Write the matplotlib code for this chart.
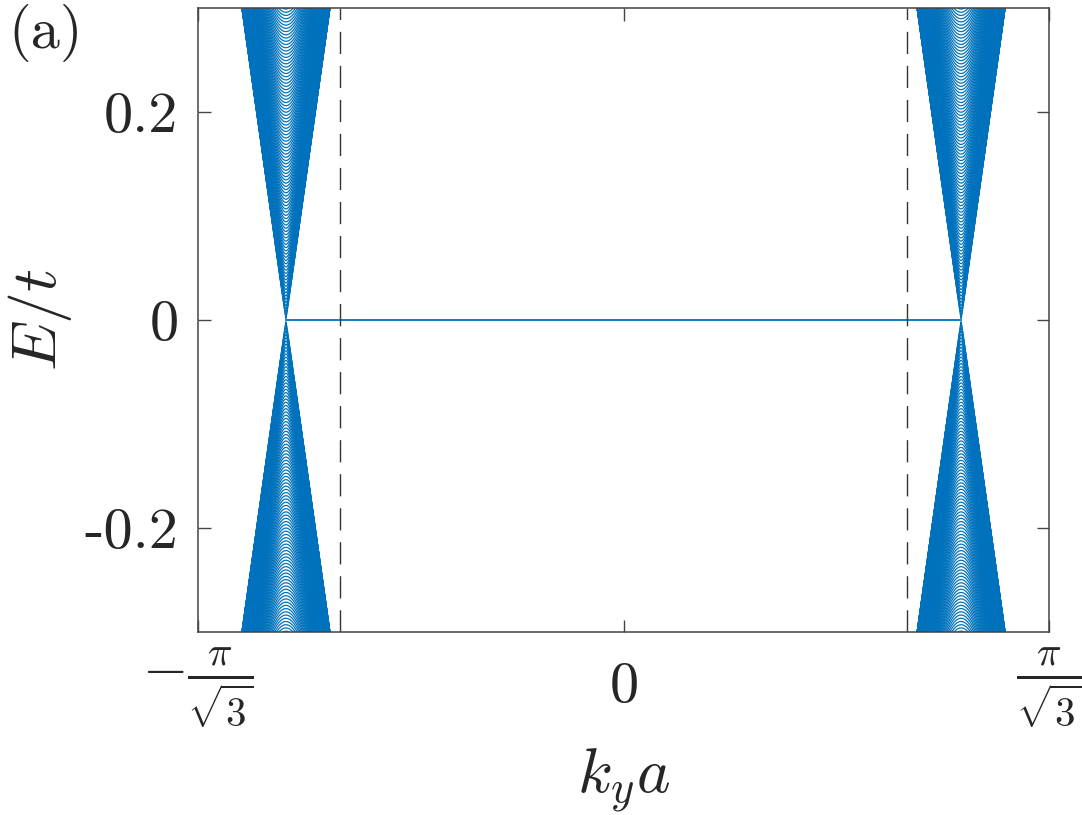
import numpy as np
import matplotlib
matplotlib.use("Agg")
import matplotlib.pyplot as plt

plt.rcParams['font.family'] = 'serif'
plt.rcParams['font.serif'] = ['cmr10']
plt.rcParams['mathtext.fontset'] = 'cm'
plt.rcParams['axes.unicode_minus'] = False
plt.rcParams['text.color'] = '#262626'
plt.rcParams['xtick.labelcolor'] = '#262626'
plt.rcParams['ytick.labelcolor'] = '#262626'
plt.rcParams['axes.labelcolor'] = '#262626'

# values (k in units of 1/a, E in units of t)
k_max = np.pi / np.sqrt(3)
dirac_k = [-1.439, 1.439]          # cone apexes
valley_k = [-1.209, 1.209]         # dashed lines
fermi_v = 1.60                     # slope of the cone edge
subband_step = 0.0031              # spacing of sub-band minima
n_subbands = 110
edge_band_k = [-1.439, 1.439]      # flat zero-energy band
edge_band_E = [0.0, 0.0]

xtick_pos = [-k_max, 0, k_max]
xtick_lbl = [r'$-\frac{\pi}{\sqrt{3}}$', r'$0$', r'$\frac{\pi}{\sqrt{3}}$']
ytick_pos = [-0.2, 0, 0.2]
ytick_lbl = ['-0.2', '0', '0.2']

blue = '#0072BD'

fig = plt.figure(figsize=(10.82, 8.15), dpi=100)
ax = fig.add_axes([0.183, 0.2245, 0.7865, 0.7655])

# bulk sub-bands around each Dirac point
q = np.linspace(-0.22, 0.22, 1501)
for k0 in dirac_k:
    for n in range(n_subbands):
        gap = (n + 0.5) * subband_step
        E = np.sqrt((fermi_v * q) ** 2 + gap ** 2)
        ax.plot(k0 + q, E, color=blue, lw=0.9)
        ax.plot(k0 + q, -E, color=blue, lw=0.9)

ax.plot(edge_band_k, edge_band_E, color=blue, lw=1.3)

for kv in valley_k:
    ax.axvline(kv, color='#333333', lw=1.0, ls=(0, (16, 8.5)))

ax.set_xlim(-k_max, k_max)
ax.set_ylim(-0.3, 0.3)
ax.set_xticks(xtick_pos)
ax.set_xticklabels(xtick_lbl, fontsize=42)
ax.set_yticks(ytick_pos)
ax.set_yticklabels(ytick_lbl, fontsize=42)
for lab in ax.get_xticklabels():
    lab.set_va('center')
ax.tick_params(axis='x', direction='in', length=9, width=1.0, color='#444444',
               top=True, pad=40)
ax.tick_params(axis='y', direction='in', length=9, width=1.0, color='#444444',
               right=True, pad=14)
for s in ax.spines.values():
    s.set_color('#444444')
    s.set_linewidth(1.1)

ax.set_xlabel(r'$k_y a$', fontsize=46, labelpad=12)
ax.set_ylabel(r'$E/t$', fontsize=46, labelpad=8)

fig.text(0.008, 0.995, '(a)', fontsize=42, va='top', ha='left')

fig.savefig('out.png', dpi=100)
